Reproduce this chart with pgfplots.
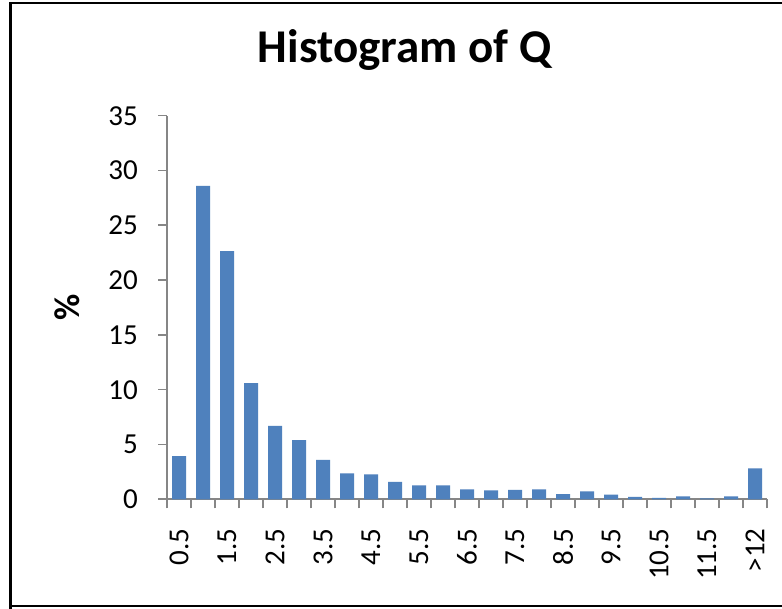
\documentclass[border=0pt]{standalone}
\usepackage{pgfplots}
\pgfplotsset{compat=1.18}
\usepackage{fontspec}
\setmainfont{Carlito}
\definecolor{barblue}{HTML}{4F81BD}
\definecolor{axgray}{HTML}{868686}
\begin{document}
\begin{tikzpicture}
\useasboundingbox (0,0) rectangle (782pt,608pt);
\fill[white] (0,0) rectangle (782pt,608pt);
\draw[black, line width=2.6pt] (10.5pt,-5pt) -- (10.5pt,605pt) -- (795pt,605pt);
\draw[black, line width=2.2pt] (10.5pt,1.7pt) -- (795pt,1.7pt);
\begin{axis}[
  at={(167pt,108.7pt)}, anchor=south west,
  scale only axis, width=600pt, height=383.6pt,
  xmin=-0.5, xmax=24.5, ymin=0, ymax=35,
  axis x line*=bottom, axis y line*=left,
  axis line style={axgray, line width=1.6pt, -},
  tick style={axgray, line width=1.6pt},
  tick align=outside,
  major tick length=9pt,
  ytick={0,5,...,35},
  xtick={-0.5,0.5,...,24.5},
  xticklabels={},
  extra x ticks={0,2,...,24},
  extra x tick labels={0.5,1.5,2.5,3.5,4.5,5.5,6.5,7.5,8.5,9.5,10.5,11.5,>12},
  extra x tick style={major tick length=0pt},
  /pgf/number format/assume math mode=true,
  tick label style={font=\fontsize{29}{34}\selectfont, black},
  yticklabel style={inner sep=0pt, anchor=east},
  yticklabel shift=20pt,
  xticklabel style={inner sep=0pt, rotate=90, anchor=east},
  xticklabel shift=29pt,
  title={Histogram of Q},
  title style={font=\fontsize{47}{56}\selectfont\bfseries, at={(axis description cs:0.396,1.124)}, anchor=base, inner sep=0pt},
  ylabel={\fontsize{36}{42}\selectfont\bfseries\%},
  ylabel style={at={(axis description cs:-0.166,0.501)}, anchor=center},
  clip=false,
]
\addplot[ybar, bar width=14pt, fill=barblue, draw=none] coordinates {
(0,3.95) (1,28.6) (2,22.65) (3,10.6) (4,6.7) (5,5.41) (6,3.59) (7,2.37) (8,2.28)
(9,1.58) (10,1.28) (11,1.28) (12,0.91) (13,0.82) (14,0.85) (15,0.91) (16,0.48)
(17,0.73) (18,0.42) (19,0.21) (20,0.12) (21,0.27) (22,0.09) (23,0.27) (24,2.83)
};
\end{axis}
\end{tikzpicture}
\end{document}
